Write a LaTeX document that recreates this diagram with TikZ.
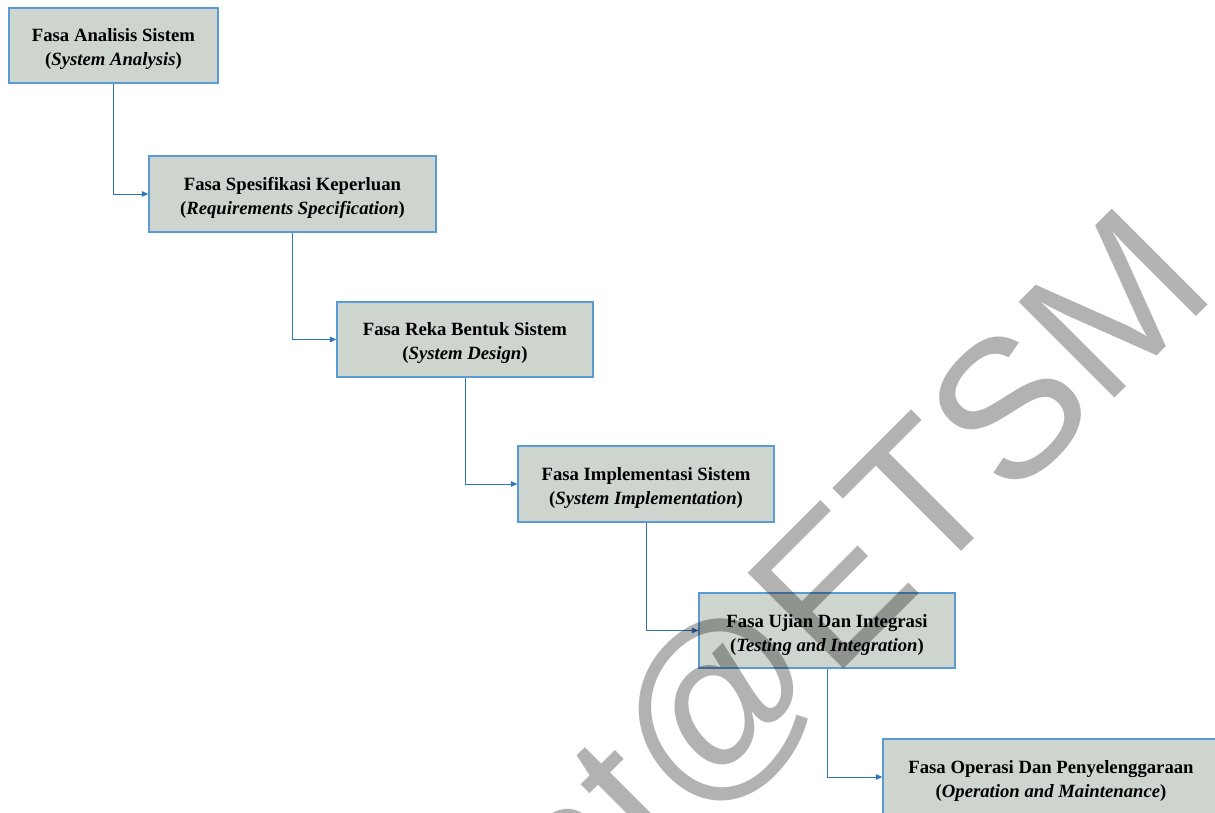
\documentclass[tikz,border=0pt]{standalone}
\usepackage{fontspec}
\setmainfont{Liberation Serif}
\newfontfamily\wmfont{Liberation Sans}
\usetikzlibrary{arrows.meta}
\definecolor{boxfill}{RGB}{205,213,206}
\definecolor{boxline}{RGB}{91,155,213}
\definecolor{conn}{RGB}{46,117,182}
\newcommand\topgap{\rule{0pt}{21pt}}
\begin{document}
\begin{tikzpicture}[x=1pt,y=1pt,
  phase/.style={draw=boxline, line width=1.3pt, fill=boxfill, align=center,
    inner sep=0pt, text=black, font=\fontsize{18.7}{24}\selectfont\bfseries},
  link/.style={draw=conn, line width=0.9pt, -{Triangle[length=6.5pt,width=5.5pt]}},
  watermark/.style={inner sep=0pt, outer sep=0pt, text=black, text opacity=0.3,
    font=\wmfont\fontsize{197}{200}\selectfont}]
\useasboundingbox (0,0) rectangle (1215,812);
\clip (0,0) rectangle (1215,812);
\fill[white] (0,0) rectangle (1215,812);
\node[phase, minimum width=209pt, minimum height=75pt] (A) at (113.5,766.5)
  {\topgap Fasa Analisis Sistem\\(\textit{System Analysis})};
\node[phase, minimum width=287pt, minimum height=76pt] (B) at (292.5,618)
  {\topgap Fasa Spesifikasi Keperluan\\(\textit{Requirements Specification})};
\node[phase, minimum width=256pt, minimum height=75pt] (C) at (465,472.5)
  {\topgap Fasa Reka Bentuk Sistem\\(\textit{System Design})};
\node[phase, minimum width=256pt, minimum height=76pt] (D) at (646,328)
  {\topgap Fasa Implementasi Sistem\\(\textit{System Implementation})};
\node[phase, minimum width=256pt, minimum height=75pt] (E) at (827,181.5)
  {\topgap Fasa Ujian Dan Integrasi\\(\textit{Testing and Integration})};
\node[phase, minimum width=336pt, minimum height=76pt] (F) at (1051,35)
  {\topgap Fasa Operasi Dan Penyelenggaraan\\(\textit{Operation and Maintenance})};
\draw[link] (A.south) |- (B.west);
\draw[link] (B.south) |- (C.west);
\draw[link] (C.south) |- (D.west);
\draw[link] (D.south) |- (E.west);
\draw[link] (E.south) |- (F.west);
\node[watermark, rotate=45, anchor=base east] (wm) at (1219.7,518.6) {Pusat@ETSM};
\end{tikzpicture}
\end{document}
